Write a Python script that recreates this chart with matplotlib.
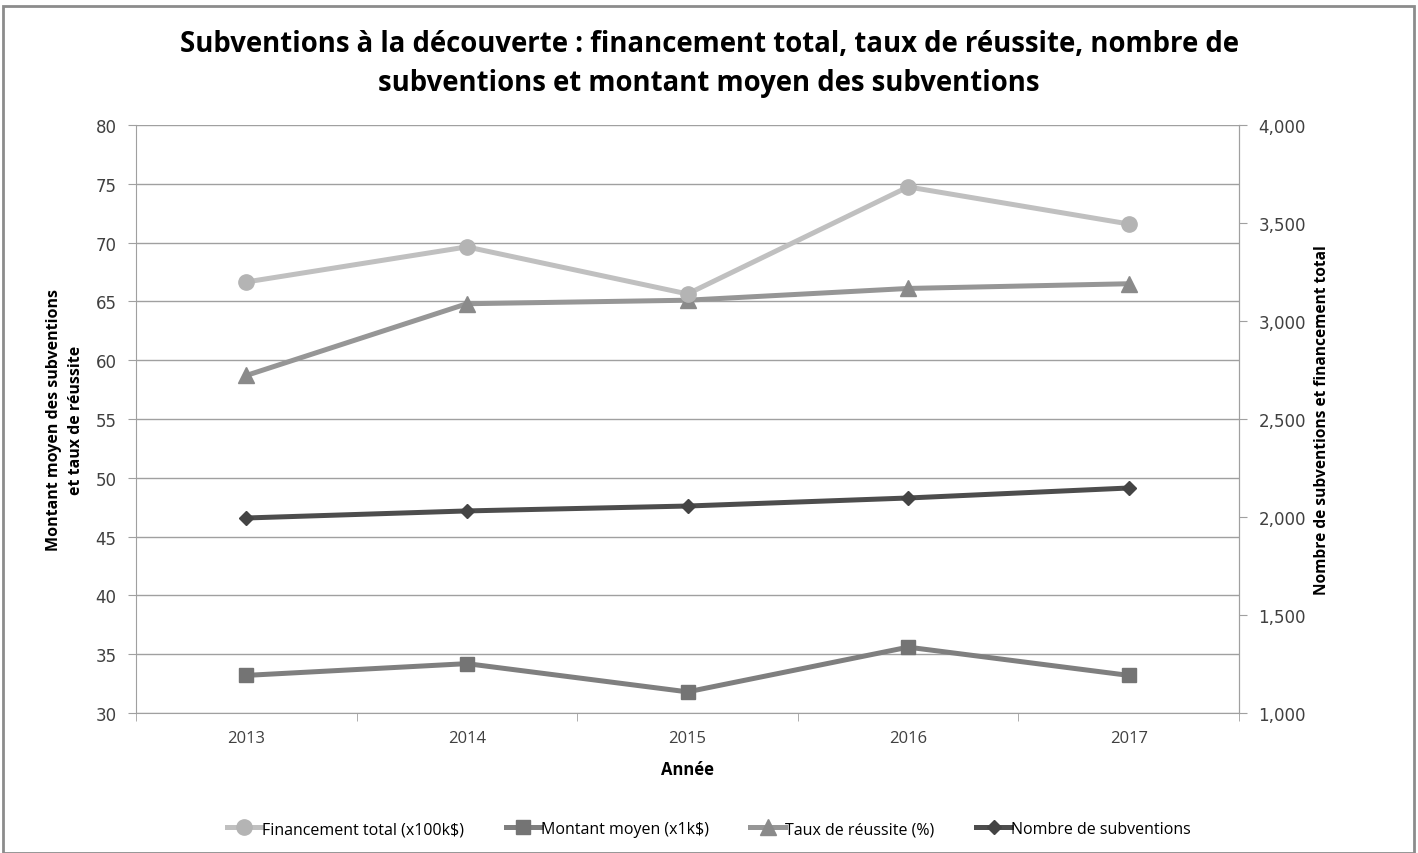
import matplotlib.pyplot as plt
from matplotlib.patches import Rectangle
from matplotlib.ticker import FuncFormatter, MultipleLocator

years = ["2013", "2014", "2015", "2016", "2017"]
financement_total = [3199, 3378, 3138, 3684, 3495]   # x100k$, right axis
montant_moyen = [33.2, 34.2, 31.8, 35.6, 33.2]        # x1k$, left axis
taux_reussite = [58.7, 64.8, 65.1, 66.1, 66.5]        # %, left axis
nombre_subventions = [1995, 2031, 2056, 2097, 2148]   # right axis

TEXT_FONT = ["Liberation Sans Narrow", "Open Sans", "DejaVu Sans"]

fig = plt.figure(figsize=(14.18, 8.54), dpi=100)
ax = fig.add_axes([0.0959, 0.1639, 0.7779, 0.6886])
ax2 = ax.twinx()

x = list(range(len(years)))
lw = 3.6
ms = 11

l1, = ax2.plot(x, financement_total, color="#c0c0c0", lw=lw, marker="o", ms=ms,
               mfc="#b4b4b4", mec="#b4b4b4", label="Financement total (x100k$)", zorder=3)
l2, = ax.plot(x, montant_moyen, color="#7f7f7f", lw=lw, marker="s", ms=ms - 1,
              mfc="#747474", mec="#747474", label="Montant moyen (x1k$)", zorder=3)
l3, = ax.plot(x, taux_reussite, color="#969696", lw=lw, marker="^", ms=ms + 1,
              mfc="#8a8a8a", mec="#8a8a8a", label="Taux de réussite (%)", zorder=3)
l4, = ax2.plot(x, nombre_subventions, color="#4d4d4d", lw=lw, marker="D", ms=ms - 4,
               mfc="#444444", mec="#444444", label="Nombre de subventions", zorder=3)

ax.set_xlim(-0.5, len(years) - 0.5)
ax.set_ylim(30, 80)
ax2.set_ylim(1000, 4000)
ax.yaxis.set_major_locator(MultipleLocator(5))
ax2.yaxis.set_major_locator(MultipleLocator(500))
ax2.yaxis.set_major_formatter(FuncFormatter(lambda v, p: f"{int(v):,}"))

ax.set_xticks(x)
ax.set_xticklabels(years)
ax.set_xticks([i - 0.5 for i in range(len(years) + 1)], minor=True)
ax.tick_params(axis="x", which="major", length=0, pad=12, colors="#404040")
ax.tick_params(axis="x", which="minor", length=6, color="#a0a0a0", direction="out")
ax.tick_params(axis="y", length=6, color="#a0a0a0", labelsize=12, colors="#404040", pad=8)
ax2.tick_params(axis="y", length=6, color="#a0a0a0", labelsize=12, colors="#404040", pad=8)
for lab in ax.get_xticklabels():
    lab.set_family(TEXT_FONT)
    lab.set_fontsize(12)

ax.grid(axis="y", color="#a0a0a0", lw=1)
ax.set_axisbelow(True)
for a in (ax, ax2):
    for side in ("left", "right", "bottom"):
        a.spines[side].set_color("#a0a0a0")
    a.spines["top"].set_visible(False)
ax2.spines["left"].set_visible(False)
ax2.spines["bottom"].set_visible(False)

ax.set_xlabel("Année", family=TEXT_FONT, fontsize=12, fontweight="bold", labelpad=10)
ax.set_ylabel("Montant moyen des subventions\net taux de réussite", family=TEXT_FONT,
              fontsize=11.5, fontweight="bold", labelpad=8, linespacing=1.5)
ax2.set_ylabel("Nombre de subventions et financement total", family=TEXT_FONT,
               fontsize=11.2, fontweight="bold", labelpad=6)

fig.suptitle("Subventions à la découverte : financement total, taux de réussite, nombre de\n"
             "subventions et montant moyen des subventions",
             family=TEXT_FONT, fontsize=19.8, fontweight="bold", y=0.965, linespacing=1.45)

fig.legend(handles=[l1, l2, l3, l4], loc="center", bbox_to_anchor=(0.5, 0.028), ncol=4,
           frameon=False, prop={"family": TEXT_FONT, "size": 11.5}, handlelength=2.2,
           handletextpad=0.0, columnspacing=2.6)

fig.patches.append(Rectangle((0.002, 0.0), 0.995, 0.992, transform=fig.transFigure,
                             fill=False, edgecolor="#8c8c8c", lw=2))

fig.savefig("out.png", dpi=100)
